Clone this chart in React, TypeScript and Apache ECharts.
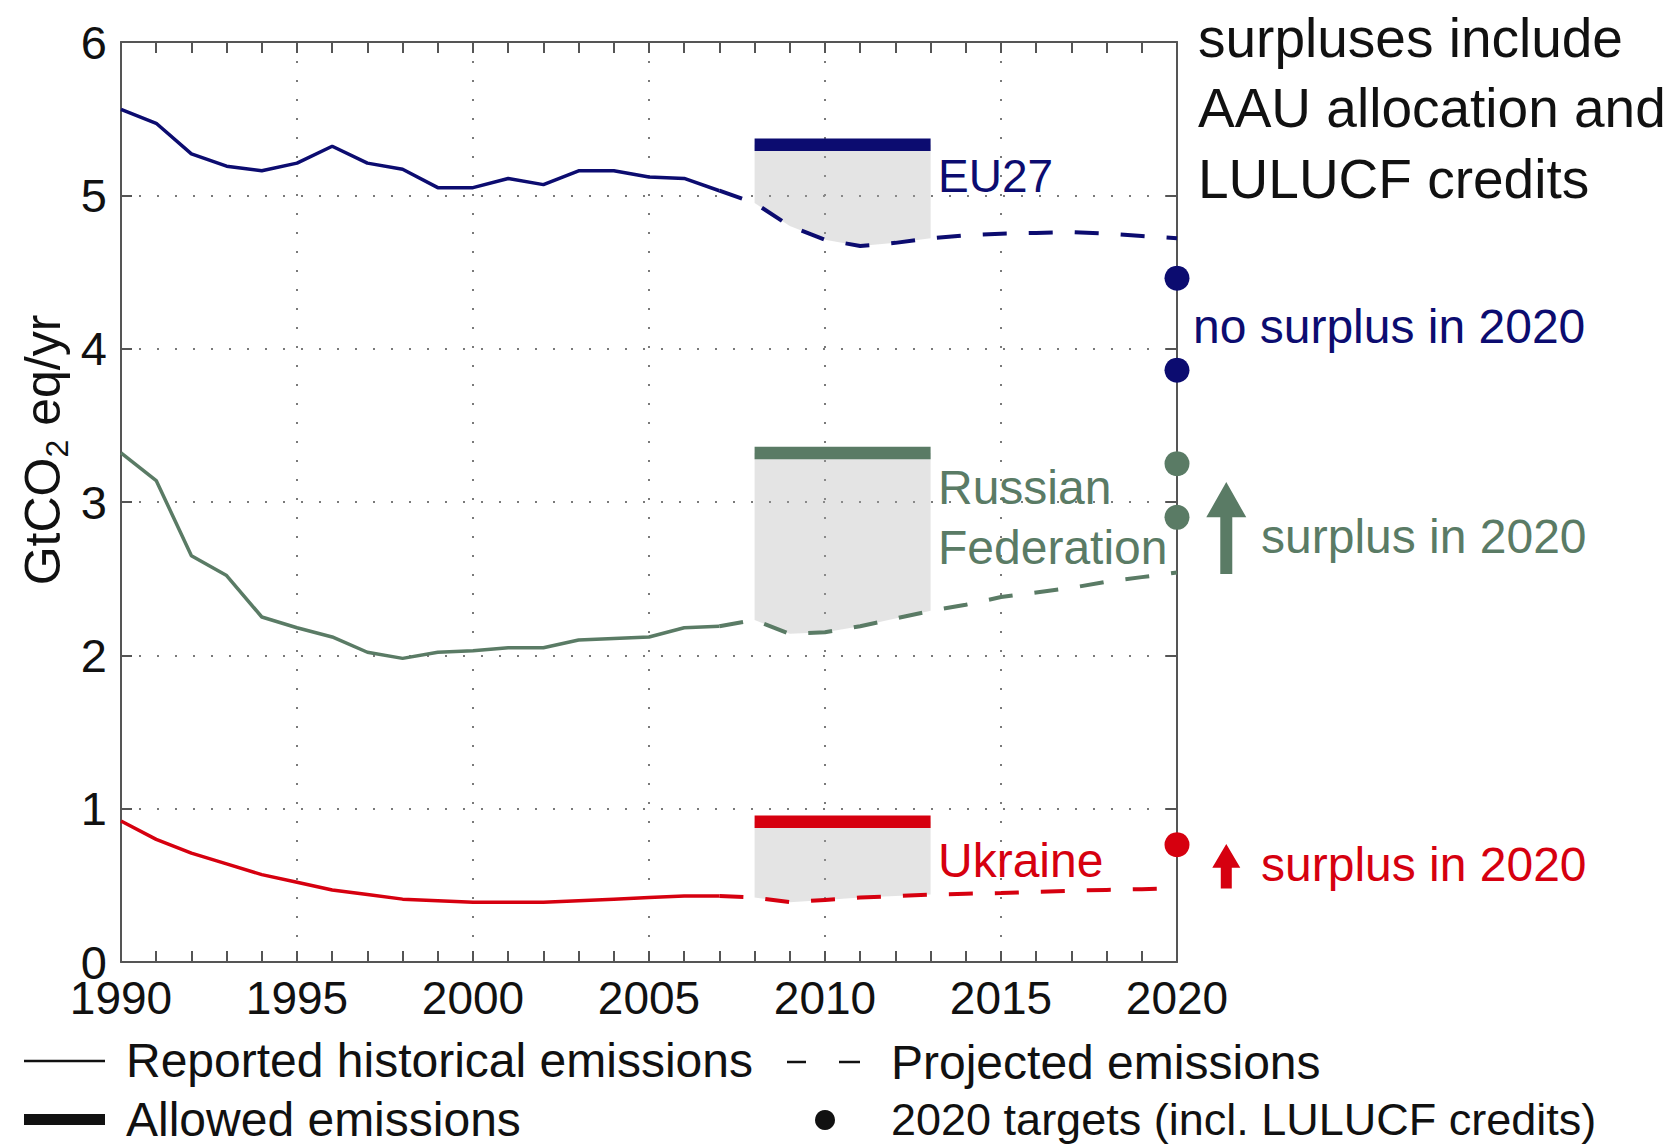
import React, { useEffect, useRef } from "react";
import * as echarts from "echarts";

const FONT = "'Liberation Sans', Arial, sans-serif";
const NAVY = "#0c0c70";
const GREEN = "#5a7b65";
const RED = "#d6000f";
const FILL = "rgba(170,170,170,0.32)";
const INK = "#111111";
const AXIS = "#555555";

const histYears = [1990, 1991, 1992, 1993, 1994, 1995, 1996, 1997, 1998, 1999, 2000, 2001, 2002, 2003, 2004, 2005, 2006, 2007];
const projYears = [2007, 2008, 2009, 2010, 2011, 2012, 2013, 2014, 2015, 2016, 2017, 2018, 2019, 2020];
const capYears = [2008, 2013];
const targetYear = 2020;

const euHist = [5.56, 5.47, 5.27, 5.19, 5.16, 5.21, 5.32, 5.21, 5.17, 5.05, 5.05, 5.11, 5.07, 5.16, 5.16, 5.12, 5.11, 5.03];
const euProj = [5.03, 4.95, 4.8, 4.71, 4.67, 4.69, 4.72, 4.74, 4.75, 4.755, 4.76, 4.75, 4.735, 4.72];
const ruHist = [3.32, 3.14, 2.65, 2.52, 2.25, 2.18, 2.12, 2.02, 1.98, 2.02, 2.03, 2.05, 2.05, 2.1, 2.11, 2.12, 2.18, 2.19];
const ruProj = [2.19, 2.23, 2.14, 2.15, 2.19, 2.24, 2.29, 2.33, 2.38, 2.41, 2.44, 2.48, 2.51, 2.54];
const uaHist = [0.92, 0.8, 0.71, 0.64, 0.57, 0.52, 0.47, 0.44, 0.41, 0.4, 0.39, 0.39, 0.39, 0.4, 0.41, 0.42, 0.43, 0.43];
const uaProj = [0.43, 0.42, 0.39, 0.405, 0.42, 0.43, 0.44, 0.445, 0.45, 0.458, 0.465, 0.47, 0.475, 0.48];

const euAllowed = 5.33;
const ruAllowed = 3.32;
const uaAllowed = 0.915;

const euTargets = [4.46, 3.86];
const ruTargets = [3.25, 2.9];
const uaTargets = [0.765];

const yTicks = [0, 6, 1];
const xTicks = [1990, 2020, 5];

// arrow annotations (data coordinates): [x, top, headBase, bottom]
const ruArrow = [2021.4, 3.13, 2.9, 2.53];
const uaArrow = [2021.4, 0.77, 0.615, 0.48];

const pairs = (xs: number[], ys: number[]) => xs.map((x, i) => [x, ys[i]]);

function countrySeries(name: string, color: string, hist: number[], proj: number[], allowed: number, targets: number[]) {
  const fillYears = projYears.filter((y) => y >= capYears[0] && y <= capYears[1]);
  return [
    {
      type: "custom",
      name: name + " fill",
      silent: true,
      clip: false,
      z: 1,
      data: [[capYears[0], allowed]],
      renderItem: (_params: any, api: any) => {
        const top = capYears.map((y) => api.coord([y, allowed]));
        const bottom = fillYears
          .slice()
          .reverse()
          .map((y) => api.coord([y, proj[projYears.indexOf(y)]]));
        return { type: "polygon", shape: { points: [...top, ...bottom] }, style: { fill: FILL } };
      },
    },
    { type: "line", name: name + " hist", color, data: pairs(histYears, hist), symbol: "none", lineStyle: { color, width: 3.5 }, z: 4 },
    { type: "line", name: name + " proj", color, data: pairs(projYears, proj), symbol: "none", lineStyle: { color, width: 4, type: [24, 22] }, z: 4 },
    { type: "line", name: name + " allowed", color, data: capYears.map((y) => [y, allowed]), symbol: "none", lineStyle: { color, width: 12.5, cap: "butt" }, z: 5 },
    { type: "scatter", name: name + " targets", color, data: targets.map((v) => [targetYear, v]), symbol: "circle", symbolSize: 25, itemStyle: { color, opacity: 1 }, z: 6, clip: false },
  ];
}

const tickLine = { color: AXIS, width: 2 };

function buildOption() {
  const xCommon = {
    type: "value",
    min: xTicks[0],
    max: xTicks[1],
    interval: xTicks[2],
    axisTick: { show: true, inside: true, length: 11, lineStyle: tickLine },
    minorTick: { show: true, splitNumber: 5, length: 11, lineStyle: tickLine },
    axisLine: { show: true, onZero: false, lineStyle: tickLine },
  };
  const yCommon = {
    type: "value",
    min: yTicks[0],
    max: yTicks[1],
    interval: yTicks[2],
    axisTick: { show: true, inside: true, length: 11, lineStyle: tickLine },
    axisLine: { show: true, onZero: false, lineStyle: tickLine },
  };
  return {
    animation: false,
    backgroundColor: "#ffffff",
    textStyle: { fontFamily: FONT },
    grid: { left: 121, top: 42, right: 503, bottom: 182 },
    xAxis: [
      {
        ...xCommon,
        position: "bottom",
        axisLabel: { fontSize: 46, lineHeight: 40, color: INK, margin: 16, fontFamily: FONT, formatter: (v: number) => String(v) },
        splitLine: { show: true, lineStyle: { color: "#7a7a7a", width: 2, type: [2, 17] } },
      },
      { ...xCommon, position: "top", axisLabel: { show: false }, splitLine: { show: false } },
    ],
    yAxis: [
      {
        ...yCommon,
        position: "left",
        axisLabel: { fontSize: 47, lineHeight: 28, color: INK, margin: 14, fontFamily: FONT },
        splitLine: { show: true, lineStyle: { color: "#7a7a7a", width: 2, type: [2, 16] } },
      },
      { ...yCommon, position: "right", axisLabel: { show: false }, splitLine: { show: false } },
    ],
    series: [
      ...countrySeries("EU27", NAVY, euHist, euProj, euAllowed, euTargets),
      ...countrySeries("Russia", GREEN, ruHist, ruProj, ruAllowed, ruTargets),
      ...countrySeries("Ukraine", RED, uaHist, uaProj, uaAllowed, uaTargets),
    ],
  };
}

const txt = (text: string, x: number, y: number, fill: string, fontSize: number) => ({
  type: "text",
  x,
  y,
  z: 20,
  style: { text, fill, fontSize, fontFamily: FONT, align: "left", verticalAlign: "middle" },
});

export default function App() {
  const ref = useRef<HTMLDivElement>(null);
  useEffect(() => {
    if (!ref.current) return;
    const chart = echarts.init(ref.current, undefined, { renderer: "svg" });
    chart.setOption(buildOption() as any);

    const toPx = (x: number, y: number) => chart.convertToPixel({ xAxisIndex: 0, yAxisIndex: 0 }, [x, y]) as number[];
    const arrow = (a: number[], color: string, headHalf: number, shaftHalf: number) => {
      const [cx, ty] = toPx(a[0], a[1]);
      const hy = toPx(a[0], a[2])[1];
      const by = toPx(a[0], a[3])[1];
      return {
        type: "polygon",
        z: 20,
        shape: {
          points: [
            [cx, ty],
            [cx + headHalf, hy],
            [cx + shaftHalf, hy],
            [cx + shaftHalf, by],
            [cx - shaftHalf, by],
            [cx - shaftHalf, hy],
            [cx - headHalf, hy],
          ],
        },
        style: { fill: color },
      };
    };

    const graphic: any[] = [
      {
        type: "text",
        x: 43,
        y: 450,
        rotation: Math.PI / 2,
        z: 20,
        style: {
          text: "{a|GtCO}{b|2}{a| eq/yr}",
          align: "center",
          verticalAlign: "middle",
          rich: {
            a: { fontSize: 50, fontFamily: FONT, fill: INK, lineHeight: 60 },
            b: { fontSize: 32, fontFamily: FONT, fill: INK, lineHeight: 32, verticalAlign: "bottom" },
          },
        },
      },
      txt("surpluses include", 1198, 38, INK, 55),
      txt("AAU allocation and", 1198, 108, INK, 55),
      txt("LULUCF credits", 1198, 179, INK, 55),
      txt("EU27", 938, 176, NAVY, 46),
      txt("Russian", 938, 487, GREEN, 48),
      txt("Federation", 938, 547, GREEN, 48),
      txt("Ukraine", 938, 860, RED, 48),
      txt("no surplus in 2020", 1193, 326, NAVY, 48),
      txt("surplus in 2020", 1261, 536, GREEN, 48),
      txt("surplus in 2020", 1261, 864, RED, 48),
      arrow(ruArrow, GREEN, 20, 6),
      arrow(uaArrow, RED, 14, 5.5),
      { type: "line", z: 20, shape: { x1: 24, y1: 1061, x2: 105, y2: 1061 }, style: { stroke: INK, lineWidth: 2.5 } },
      txt("Reported historical emissions", 126, 1060, INK, 48),
      { type: "line", z: 20, shape: { x1: 787, y1: 1062, x2: 806, y2: 1062 }, style: { stroke: INK, lineWidth: 2.5 } },
      { type: "line", z: 20, shape: { x1: 839, y1: 1062, x2: 860, y2: 1062 }, style: { stroke: INK, lineWidth: 2.5 } },
      txt("Projected emissions", 891, 1062, INK, 48),
      { type: "rect", z: 20, shape: { x: 24, y: 1114, width: 81, height: 11 }, style: { fill: INK } },
      txt("Allowed emissions", 126, 1119, INK, 48),
      { type: "circle", z: 20, shape: { cx: 825, cy: 1120, r: 10 }, style: { fill: INK } },
      txt("2020 targets (incl. LULUCF credits)", 891, 1119, INK, 45),
    ];
    chart.setOption({ graphic } as any);
    return () => chart.dispose();
  }, []);
  return <div ref={ref} style={{ position: "absolute", left: 0, top: 0, width: 1680, height: 1144 }} />;
}
